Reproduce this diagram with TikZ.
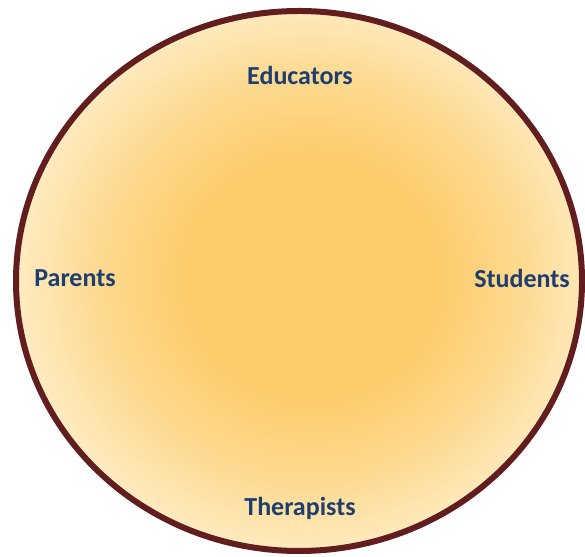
\documentclass[tikz,border=0pt]{standalone}
\usepackage{fontspec}
\setmainfont{Carlito}
\definecolor{rimred}{RGB}{98,30,30}
\definecolor{glowin}{RGB}{252,204,106}
\definecolor{glowmid}{RGB}{253,218,146}
\definecolor{glowout}{RGB}{254,236,196}
\definecolor{labelblue}{RGB}{30,62,112}
\pgfdeclareradialshading{glow}{\pgfpoint{1.5bp}{0.5bp}}{color(0bp)=(glowin); color(11bp)=(glowin); color(19bp)=(glowmid); color(26bp)=(glowout); color(50bp)=(glowout)}
\tikzset{
        rim/.style={draw=rimred, line width=6pt, shading=glow},
        role/.style={text=labelblue, font=\fontsize{26}{30}\selectfont\bfseries, inner sep=0pt}
    }

\begin{document}
\begin{tikzpicture}[x=1pt, y=1pt]
            \useasboundingbox (0, 0) rectangle (585, 556);
            \fill[white] (0, 0) rectangle (585, 556);
            \draw [rim] (299, 275) ellipse [x radius=283, y radius=270];

            \node [role] (educators)  at (300, 481) {Educators};
            \node [role] (parents)    at (75, 278)  {Parents};
            \node [role] (students)   at (522, 278) {Students};
            \node [role] (therapists) at (300, 48)  {Therapists};
        \end{tikzpicture}
\end{document}
